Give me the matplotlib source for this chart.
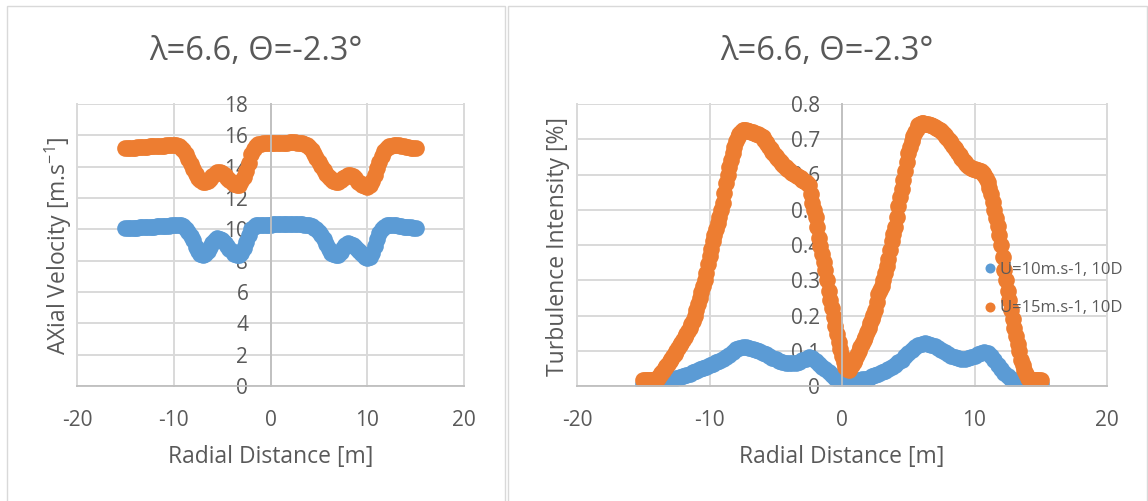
import numpy as np
import matplotlib
matplotlib.use('Agg')
import matplotlib.pyplot as plt
from matplotlib.patches import Rectangle

plt.rcParams['font.family'] = ['Open Sans', 'DejaVu Sans']
plt.rcParams['axes.unicode_minus'] = False

# radial positions [m]
r_vel = np.arange(-15, 15.001, 0.25)
r_ti10 = np.arange(-15, 15.001, 0.25)
r_ti15 = np.arange(-15, 15.001, 0.125)

# axial velocity [m/s], one row = 2 m
vel_u10 = [10.06, 10.07, 10.08, 10.09, 10.10, 10.11, 10.12, 10.13,
           10.14, 10.15, 10.16, 10.17, 10.18, 10.19, 10.20, 10.21,
           10.22, 10.23, 10.24, 10.25, 10.26, 10.27, 10.27, 10.25,
           10.20, 10.05, 9.85, 9.60, 9.30, 8.90, 8.60, 8.40,
           8.35, 8.42, 8.60, 8.90, 9.15, 9.33, 9.42, 9.40,
           9.30, 9.13, 8.95, 8.77, 8.60, 8.45, 8.35, 8.36,
           8.50, 8.80, 9.20, 9.65, 10.00, 10.18, 10.27, 10.29,
           10.30, 10.30, 10.30, 10.30, 10.30, 10.31, 10.31, 10.31,
           10.32, 10.32, 10.32, 10.32, 10.32, 10.32, 10.32, 10.32,
           10.31, 10.31, 10.30, 10.28, 10.25, 10.19, 10.10, 9.99,
           9.85, 9.65, 9.40, 9.08, 8.75, 8.52, 8.40, 8.35,
           8.35, 8.55, 8.80, 8.98, 9.10, 9.08, 9.00, 8.86,
           8.70, 8.55, 8.40, 8.25, 8.15, 8.22, 8.50, 8.95,
           9.40, 9.75, 10.00, 10.15, 10.25, 10.27, 10.27, 10.26,
           10.25, 10.23, 10.20, 10.18, 10.17, 10.15, 10.13, 10.11,
           10.10]
vel_u15 = [15.17, 15.18, 15.20, 15.21, 15.22, 15.23, 15.25, 15.26,
           15.27, 15.28, 15.29, 15.30, 15.31, 15.32, 15.33, 15.34,
           15.35, 15.36, 15.37, 15.38, 15.38, 15.36, 15.30, 15.20,
           15.05, 14.80, 14.50, 14.18, 13.85, 13.52, 13.25, 13.12,
           13.05, 13.05, 13.10, 13.23, 13.40, 13.55, 13.65, 13.65,
           13.60, 13.47, 13.30, 13.15, 13.00, 12.88, 12.80, 12.85,
           13.10, 13.35, 13.70, 14.25, 14.80, 15.15, 15.35, 15.42,
           15.45, 15.48, 15.50, 15.50, 15.50, 15.51, 15.52, 15.52,
           15.53, 15.53, 15.54, 15.54, 15.55, 15.55, 15.55, 15.54,
           15.52, 15.49, 15.45, 15.37, 15.25, 15.05, 14.80, 14.55,
           14.30, 14.05, 13.80, 13.55, 13.35, 13.20, 13.10, 13.05,
           13.05, 13.12, 13.25, 13.37, 13.45, 13.45, 13.40, 13.25,
           13.05, 12.95, 12.85, 12.76, 12.70, 12.82, 13.10, 13.50,
           13.90, 14.30, 14.70, 15.00, 15.20, 15.30, 15.35, 15.37,
           15.38, 15.36, 15.33, 15.30, 15.27, 15.25, 15.22, 15.20,
           15.17]

# turbulence intensity [%]
ti_u10 = [0.006, 0.006, 0.007, 0.008, 0.009, 0.011, 0.013, 0.015,
          0.017, 0.020, 0.023, 0.026, 0.029, 0.032, 0.035, 0.039,
          0.043, 0.047, 0.051, 0.055, 0.059, 0.063, 0.067, 0.071,
          0.076, 0.082, 0.089, 0.097, 0.104, 0.109, 0.111, 0.111,
          0.109, 0.106, 0.103, 0.099, 0.095, 0.090, 0.085, 0.080,
          0.076, 0.072, 0.069, 0.066, 0.065, 0.065, 0.066, 0.069,
          0.073, 0.078, 0.083, 0.080, 0.072, 0.063, 0.055, 0.047,
          0.039, 0.031, 0.024, 0.018, 0.014, 0.012, 0.012, 0.013,
          0.015, 0.017, 0.019, 0.021, 0.024, 0.027, 0.031, 0.035,
          0.039, 0.043, 0.048, 0.054, 0.060, 0.067, 0.075, 0.084,
          0.094, 0.103, 0.111, 0.117, 0.120, 0.121, 0.120, 0.117,
          0.113, 0.108, 0.102, 0.096, 0.090, 0.085, 0.081, 0.079,
          0.078, 0.078, 0.079, 0.082, 0.086, 0.090, 0.094, 0.097,
          0.095, 0.086, 0.074, 0.060, 0.047, 0.036, 0.028, 0.021,
          0.016, 0.012, 0.010, 0.008, 0.007, 0.006, 0.006, 0.006,
          0.006]
ti_u15 = [0.017, 0.017, 0.017, 0.017, 0.017, 0.017, 0.018, 0.019,
          0.020, 0.024, 0.030, 0.036, 0.042, 0.050, 0.057, 0.063,
          0.070, 0.078, 0.085, 0.092, 0.100, 0.108, 0.115, 0.122,
          0.130, 0.139, 0.148, 0.156, 0.165, 0.175, 0.185, 0.200,
          0.215, 0.232, 0.250, 0.268, 0.285, 0.302, 0.320, 0.345,
          0.370, 0.390, 0.410, 0.428, 0.445, 0.462, 0.480, 0.500,
          0.520, 0.548, 0.575, 0.598, 0.620, 0.640, 0.660, 0.678,
          0.695, 0.706, 0.715, 0.721, 0.726, 0.726, 0.725, 0.724,
          0.722, 0.721, 0.720, 0.718, 0.716, 0.714, 0.712, 0.709,
          0.705, 0.699, 0.693, 0.686, 0.678, 0.671, 0.664, 0.658,
          0.652, 0.646, 0.640, 0.635, 0.630, 0.625, 0.620, 0.616,
          0.612, 0.608, 0.605, 0.602, 0.600, 0.597, 0.593, 0.589,
          0.585, 0.582, 0.578, 0.575, 0.570, 0.545, 0.520, 0.500,
          0.480, 0.450, 0.420, 0.397, 0.375, 0.352, 0.330, 0.300,
          0.270, 0.245, 0.220, 0.195, 0.170, 0.148, 0.125, 0.105,
          0.085, 0.068, 0.055, 0.048, 0.045, 0.052, 0.060, 0.069,
          0.078, 0.089, 0.100, 0.110, 0.120, 0.130, 0.140, 0.152,
          0.165, 0.178, 0.190, 0.202, 0.215, 0.238, 0.260, 0.272,
          0.285, 0.302, 0.320, 0.340, 0.360, 0.385, 0.410, 0.430,
          0.450, 0.480, 0.510, 0.535, 0.560, 0.585, 0.610, 0.635,
          0.660, 0.678, 0.695, 0.708, 0.720, 0.730, 0.740, 0.743,
          0.745, 0.745, 0.744, 0.743, 0.742, 0.741, 0.740, 0.738,
          0.735, 0.733, 0.730, 0.727, 0.723, 0.718, 0.712, 0.706,
          0.700, 0.694, 0.688, 0.682, 0.676, 0.669, 0.662, 0.655,
          0.648, 0.641, 0.635, 0.630, 0.625, 0.621, 0.618, 0.616,
          0.615, 0.613, 0.612, 0.611, 0.610, 0.605, 0.600, 0.590,
          0.580, 0.563, 0.545, 0.523, 0.500, 0.478, 0.455, 0.428,
          0.400, 0.365, 0.330, 0.300, 0.270, 0.243, 0.215, 0.190,
          0.165, 0.143, 0.120, 0.098, 0.075, 0.060, 0.045, 0.033,
          0.022, 0.019, 0.017, 0.017, 0.017, 0.017, 0.017, 0.017,
          0.017]

labels = ['U=10m.s-1, 10D', 'U=15m.s-1, 10D']
title = 'λ=6.6, Θ=-2.3°'

BLUE = '#5B9BD5'
ORANGE = '#ED7D31'
TXT = '#595959'
GRID = '#D9D9D9'
AXL = '#BFBFBF'
MS = 12

W, H = 1148, 501
fig = plt.figure(figsize=(W / 100, H / 100), dpi=100)


def fx(px):
    return px / W


def fy(py):
    return 1 - py / H


# chart frames
for x0, x1 in [(7, 505), (508, 1147)]:
    fig.add_artist(Rectangle((fx(x0), fy(520)), fx(x1 - x0), (520 - 6) / H,
                             transform=fig.transFigure, fill=False,
                             edgecolor=GRID, lw=1.0))


def style(ax, yticks):
    ax.set_xlim(-20, 20)
    ax.set_xticks([-20, -10, 0, 10, 20])
    ax.set_ylim(yticks[0], yticks[-1])
    ax.set_yticks(yticks)
    ax.grid(True, color=GRID, lw=1.4)
    ax.set_axisbelow(True)
    for ln in ax.get_xgridlines() + ax.get_ygridlines():
        ln.set_clip_on(False)
    ax.spines['left'].set_position(('data', 0))
    ax.spines['left'].set_color(AXL)
    ax.spines['bottom'].set_color(AXL)
    ax.spines['left'].set_linewidth(1.3)
    ax.spines['bottom'].set_linewidth(1.3)
    ax.spines['top'].set_visible(False)
    ax.spines['right'].set_visible(False)
    ax.tick_params(axis='both', length=0, labelsize=15, labelcolor=TXT)
    ax.tick_params(axis='y', pad=16)
    ax.tick_params(axis='x', pad=17)


# left: axial velocity
ax1 = fig.add_axes([fx(77), fy(386), fx(387), 282 / H])
style(ax1, list(range(0, 19, 2)))
ax1.plot(r_vel, vel_u10, 'o', color=BLUE, ms=MS, mew=0)
ax1.plot(r_vel, vel_u15, 'o', color=ORANGE, ms=MS, mew=0)
fig.text(fx(256), fy(51), title, ha='center', va='center', fontsize=23.5, color=TXT)
fig.text(fx(58), fy(246), 'AXial Velocity [m.s$^{\\mathregular{-1}}$]', rotation=90,
         ha='center', va='center', fontsize=16.5, color=TXT)
fig.text(fx(270.5), fy(457), 'Radial Distance [m]', ha='center', va='center',
         fontsize=16.5, color=TXT)

# right: turbulence intensity
ax2 = fig.add_axes([fx(577), fy(386), fx(530), 282 / H])
style(ax2, [0, 0.1, 0.2, 0.3, 0.4, 0.5, 0.6, 0.7, 0.8])
ax2.set_yticklabels(['0', '0.1', '0.2', '0.3', '0.4', '0.5', '0.6', '0.7', '0.8'])
h1, = ax2.plot(r_ti10, ti_u10, 'o', color=BLUE, ms=MS, mew=0, label=labels[0])
h2, = ax2.plot(r_ti15, ti_u15, 'o', color=ORANGE, ms=MS, mew=0, label=labels[1])
fig.text(fx(827), fy(51), title, ha='center', va='center', fontsize=23.5, color=TXT)
fig.text(fx(558), fy(246), 'Turbulence Intensity [%]', rotation=90,
         ha='center', va='center', fontsize=16.5, color=TXT)
fig.text(fx(842), fy(457), 'Radial Distance [m]', ha='center', va='center',
         fontsize=16.5, color=TXT)

fig.legend(handles=[h1, h2], loc='center left',
           bbox_to_anchor=(fx(985), fy(289)), frameon=False,
           fontsize=12, labelcolor=TXT, markerscale=0.6,
           handlelength=0.6, handletextpad=0.3, labelspacing=1.36,
           borderaxespad=0, borderpad=0)

fig.savefig('out.png', dpi=100)
